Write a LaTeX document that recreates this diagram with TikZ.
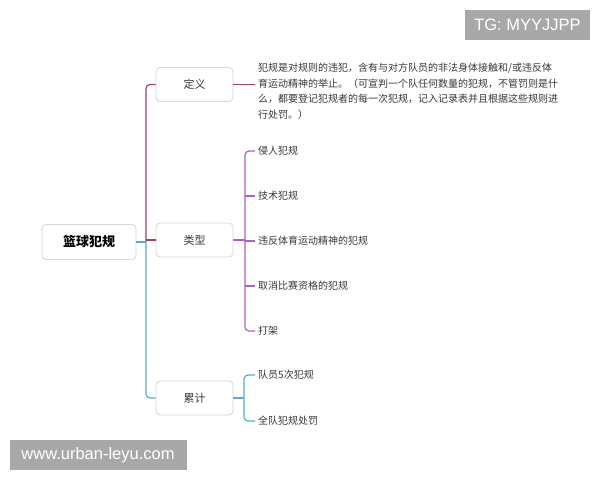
\documentclass[tikz,border=0pt]{standalone}
\usepackage{fontspec}
\newfontfamily\cjk{Noto Sans CJK SC}
\newfontfamily\wm{Liberation Sans}
\definecolor{defcol}{HTML}{A0426C}
\definecolor{typecol}{HTML}{A862C8}
\definecolor{cumcol}{HTML}{55B0CC}
\definecolor{txt}{HTML}{383838}
\definecolor{boxline}{HTML}{D6D6D6}
\definecolor{wmgray}{HTML}{A8A8A8}
\tikzset{
  topicbox/.style={draw=boxline, line width=0.8pt, fill=white, rounded corners=4pt, minimum width=77pt, minimum height=34pt, inner sep=0pt, font=\cjk\fontsize{11}{13}\selectfont, text=txt},
  rootbox/.style={topicbox, minimum width=94pt, minimum height=35pt, font=\cjk\bfseries\fontsize{13}{15}\selectfont, text=black},
  leaf/.style={anchor=west, inner sep=3pt, font=\cjk\fontsize{10}{12}\selectfont, text=txt},
  conn/.style={line width=1.2pt},
  wmbox/.style={fill=wmgray, text=white, inner sep=0pt, font=\wm\fontsize{16.5}{18}\selectfont}
}
\begin{document}
\begin{tikzpicture}[x=1pt,y=-1pt]
\useasboundingbox (0,0) rectangle (600,480);
\fill[white] (0,0) rectangle (600,480);
% nodes
\node[rootbox] (root) at (89,242) {篮球犯规};
\node[topicbox] (def) at (194.5,84.5) {定义};
\node[topicbox] (type) at (194.5,240) {类型};
\node[topicbox] (cum) at (194.5,398) {累计};
\node[leaf, align=left, font=\cjk\fontsize{10}{15.5}\selectfont] (deftext) at (255,91) {犯规是对规则的违犯，含有与对方队员的非法身体接触和/或违反体\\育运动精神的举止。（可宣判一个队任何数量的犯规，不管罚则是什\\么，都要登记犯规者的每一次犯规，记入记录表并且根据这些规则进\\行处罚。）};
\node[leaf] (t1) at (255,151) {侵人犯规};
\node[leaf] (t2) at (255,196) {技术犯规};
\node[leaf] (t3) at (255,241) {违反体育运动精神的犯规};
\node[leaf] (t4) at (255,286) {取消比赛资格的犯规};
\node[leaf] (t5) at (255,331) {打架};
\node[leaf] (c1) at (255,375) {队员5次犯规};
\node[leaf] (c2) at (255,421) {全队犯规处罚};
\coordinate (tj) at (146,242);
\coordinate (tb) at (245,240);
\coordinate (cb) at (244,398);
% trunk
\draw[conn, defcol, rounded corners=4pt] (tj) |- (def.west);
\draw[conn, defcol] (tj |- type.west) -- (type.west);
\draw[conn, cumcol, rounded corners=4pt] (tj) |- (cum.west);
\draw[conn, cumcol] (root.east) -- (tj);
% definition
\draw[conn, defcol] (def.east) -- (def.east -| deftext.west);
% types
\draw[conn, typecol] (type.east) -- (tb);
\draw[conn, typecol, rounded corners=4pt] (t1.west) -| (tb) |- (t5.west);
\draw[conn, typecol] (tb |- t2.west) -- (t2.west);
\draw[conn, typecol] (tb |- t3.west) -- (t3.west);
\draw[conn, typecol] (tb |- t4.west) -- (t4.west);
% cumulative
\draw[conn, cumcol] (cum.east) -- (cb);
\draw[conn, cumcol, rounded corners=4pt] (c1.west) -| (cb) |- (c2.west);
% watermarks
\node[wmbox, minimum width=125pt, minimum height=30pt] (tg) at (527.5,25) {TG: MYYJJPP};
\node[wmbox, minimum width=177pt, minimum height=30pt] (url) at (98,455) {www.urban-leyu.com};
\end{tikzpicture}
\end{document}
